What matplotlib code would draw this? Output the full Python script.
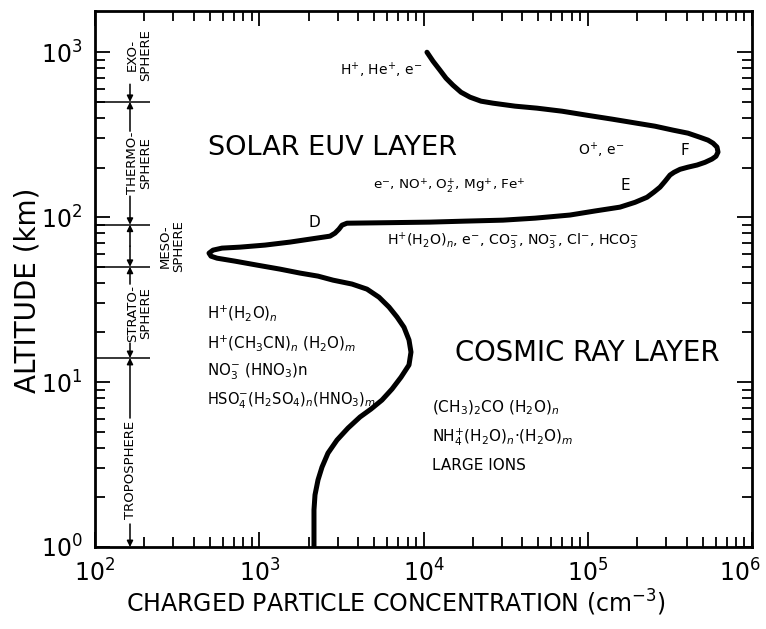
import matplotlib
matplotlib.use("Agg")
import matplotlib.pyplot as plt
import matplotlib.transforms as mtransforms
from matplotlib.ticker import LogLocator, NullFormatter

# ---------------- data ----------------
# charged particle concentration (cm^-3) along the profile, top -> bottom
conc = [10500, 11430, 12600, 13710, 15120, 16920, 19200, 22390, 26490,
        36060, 49090, 69700, 98900, 140500, 199500, 256700, 330400, 407700,
        482400, 539800, 578800, 612200, 620900, 603700, 570700, 517500,
        462800, 407700, 364500, 335100, 316800, 295400, 275400, 253200,
        229500, 194000, 157100, 110700, 77960, 47730, 30480, 17890, 10950,
        6253, 3421, 3190, 3058, 2892, 2697, 2037, 1539, 1084, 764, 593, 523,
        494.5, 508.5, 553, 712, 969, 1338, 1771, 2279, 2812, 3669, 4529,
        5359, 6166, 6898, 7607, 8160, 8390, 8160, 7295, 6430, 5587, 4790,
        4106, 3470, 2974, 2621, 2410, 2279, 2185, 2154, 2154]
# altitude (km)
alt = [1000, 882, 778, 696, 631, 572, 534, 505, 491, 471, 458, 439, 415,
       393, 371, 356, 337, 323, 305, 293, 281, 266, 248, 234, 225, 215, 207,
       201, 195, 187, 180, 165, 152, 142, 132, 123, 115, 109, 103, 98.6,
       95.9, 94.6, 93.3, 92.6, 91.9, 89.4, 84.6, 80.0, 76.7, 73.6, 70.6,
       67.7, 65.8, 64.9, 63.1, 60.5, 58.0, 56.4, 54.1, 51.2, 48.4, 45.8,
       43.9, 41.5, 39.3, 36.6, 32.7, 28.5, 24.8, 21.5, 18.0, 15.2, 12.7,
       10.7, 9.07, 7.78, 6.86, 6.14, 5.26, 4.45, 3.71, 3.05, 2.55, 2.07,
       1.68, 1.0]

# atmospheric layer boundaries (km): tropopause, stratopause, mesopause, thermopause
boundaries = [14, 50, 90, 500]
x_ticks = [1e2, 1e3, 1e4, 1e5, 1e6]
y_ticks = [1e0, 1e1, 1e2, 1e3]

# ---------------- figure ----------------
plt.rcParams["font.family"] = ["DejaVu Sans"]
plt.rcParams["mathtext.fontset"] = "dejavusans"

W, H = 766, 629
fig = plt.figure(figsize=(W / 100, H / 100), dpi=100)
ax = fig.add_axes([95 / W, 1 - 547 / H, (752 - 95) / W, (547 - 11) / H])

ax.set_xscale("log")
ax.set_yscale("log")
ax.set_xlim(1e2, 1e6)
ax.set_ylim(1, 10 ** 3.25)

ax.plot(conc, alt, color="black", lw=3.6, solid_joinstyle="round",
        solid_capstyle="round")

ax.set_xticks(x_ticks)
ax.set_yticks(y_ticks)
ax.xaxis.set_minor_locator(LogLocator(base=10, subs=range(2, 10), numticks=20))
ax.yaxis.set_minor_locator(LogLocator(base=10, subs=range(2, 10), numticks=20))
ax.xaxis.set_minor_formatter(NullFormatter())
ax.yaxis.set_minor_formatter(NullFormatter())
ax.tick_params(which="both", direction="in", top=True, right=True,
               width=1.3, color="black")
ax.tick_params(which="major", length=11, labelsize=17, pad=9)
ax.tick_params(which="minor", length=7)
for s in ax.spines.values():
    s.set_linewidth(2.0)

# keep the right-most x tick label inside the figure
last = ax.get_xticklabels()[-1]
last.set_transform(last.get_transform() +
                   mtransforms.ScaledTranslation(-12 / 100, 0, fig.dpi_scale_trans))

# ---------------- atmospheric layer column ----------------
tr = ax.get_yaxis_transform()
xcol = (130 - 95) / 657
xblk = (139 - 95) / 657


def alt_at(py):
    return 10 ** ((547 - py) / 165)


ax.hlines(boundaries, 0, (150 - 95) / 657, transform=tr, color="black", lw=1.1)

arrow_kw = dict(arrowstyle="-|>", color="black", lw=1.1, mutation_scale=9,
                shrinkA=0, shrinkB=0)


def arrow(start_py, end_alt):
    ax.annotate("", xy=(xcol, end_alt), xytext=(xcol, alt_at(start_py)),
                xycoords=tr, textcoords=tr, arrowprops=arrow_kw)


sfs = 9.5
ax.text(xcol, alt_at(470), "TROPOSPHERE", transform=tr, rotation=90,
        ha="center", va="center", fontsize=sfs)
arrow(418, boundaries[0])
arrow(524, 1.0)

ax.text(xblk, alt_at(313), "STRATO-\nSPHERE", transform=tr, rotation=90,
        ha="center", va="center", fontsize=sfs, multialignment="center",
        linespacing=1.0)
arrow(284, boundaries[1])
arrow(343, boundaries[0])

ax.text((172 - 95) / 657, alt_at(246), "MESO-\nSPHERE", transform=tr,
        rotation=90, ha="center", va="center", fontsize=sfs,
        multialignment="center", linespacing=1.0)
arrow(246, boundaries[2])
arrow(246, boundaries[1])

ax.text(xblk, alt_at(163), "THERMO-\nSPHERE", transform=tr, rotation=90,
        ha="center", va="center", fontsize=sfs, multialignment="center",
        linespacing=1.0)
arrow(196, boundaries[2])
arrow(131, boundaries[3])

ax.text(xblk, alt_at(55), "EXO-\nSPHERE", transform=tr, rotation=90,
        ha="center", va="center", fontsize=sfs, multialignment="center",
        linespacing=1.0)
arrow(84, boundaries[3])


# ---------------- annotations ----------------
def T(px, py, s, size, **kw):
    fig.text(px / W, 1 - py / H, s, fontsize=size, ha="left", va="center", **kw)


T(340, 70, r"H$^{+}$, He$^{+}$, e$^{-}$", 10)
T(208, 148, "SOLAR EUV LAYER", 19.5)
T(578, 150, r"O$^{+}$, e$^{-}$", 10)
T(680, 151, "F", 11)
T(373, 186, r"e$^{-}$, NO$^{+}$, O$_2^{+}$, Mg$^{+}$, Fe$^{+}$", 9.7)
T(621, 186, "E", 11)
T(308, 222, "D", 11)
T(387, 241, r"H$^{+}$(H$_2$O)$_n$, e$^{-}$, CO$_3^{-}$, NO$_3^{-}$, Cl$^{-}$, HCO$_3^{-}$", 10.2)
T(207, 313, r"H$^{+}$(H$_2$O)$_n$", 10.8)
T(207, 343, r"H$^{+}$(CH$_3$CN)$_n$ (H$_2$O)$_m$", 10.8)
T(207, 372, r"NO$_3^{-}$ (HNO$_3$)n", 10.8)
T(207, 401, r"HSO$_4^{-}$(H$_2$SO$_4$)$_n$(HNO$_3$)$_m$", 10.5)
T(455, 353, "COSMIC RAY LAYER", 19.8)
T(432, 408, r"(CH$_3$)$_2$CO (H$_2$O)$_n$", 11)
T(432, 437, r"NH$_4^{+}$(H$_2$O)$_n$·(H$_2$O)$_m$", 11)
T(432, 465, "LARGE IONS", 11)

fig.text(396 / W, 1 - 603 / H, r"CHARGED PARTICLE CONCENTRATION (cm$^{-3}$)",
         fontsize=17, ha="center", va="center")
fig.text(28 / W, 1 - 290 / H, "ALTITUDE (km)", fontsize=20, rotation=90,
         ha="center", va="center")

fig.savefig("out.png", dpi=100, facecolor="white")
